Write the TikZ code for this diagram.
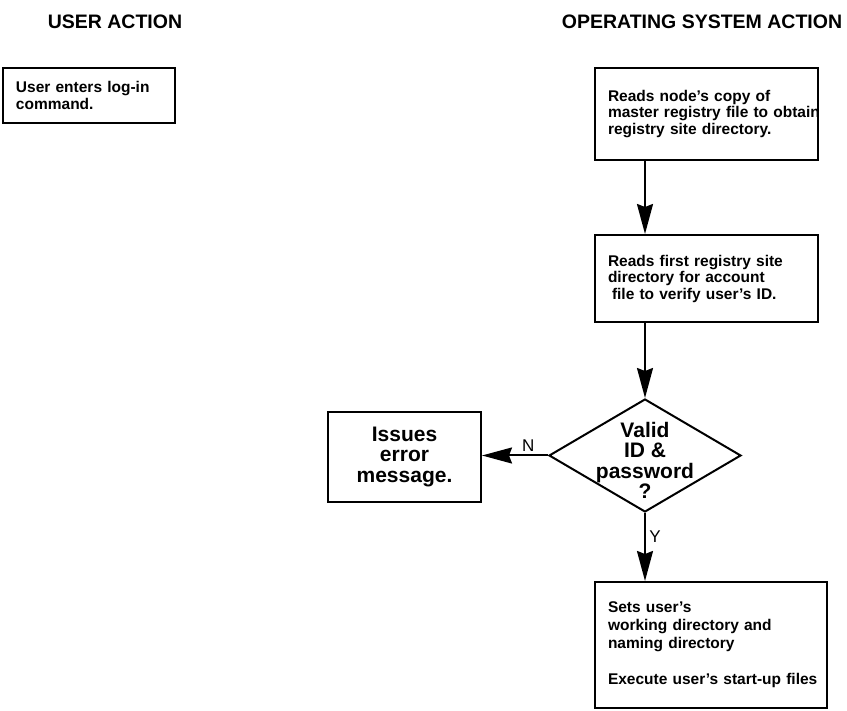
\documentclass[tikz,border=0pt]{standalone}
\usepackage{fontspec}
\setmainfont{Liberation Sans}
\usetikzlibrary{shapes.geometric,arrows.meta}

\begin{document}
\begin{tikzpicture}[x=1pt,y=-1pt,line width=2pt,
  head/.style={font=\fontsize{19.5}{19.5}\selectfont\bfseries},
  box/.style={draw,rectangle,inner sep=0pt,align=left,
    font=\fontsize{15.5}{16.5}\selectfont\bfseries},
  cbox/.style={draw,rectangle,inner sep=0pt,align=center,
    font=\fontsize{21}{20.5}\selectfont\bfseries},
  decision/.style={draw,diamond,inner sep=0pt,aspect=1.7},
  dtext/.style={align=center,font=\fontsize{21}{20.5}\selectfont\bfseries},
  tag/.style={font=\fontsize{17}{17}\selectfont},
  flow/.style={-{Stealth[length=30pt,width=16pt,inset=3pt]}}]

\useasboundingbox (0,0) rectangle (847,711);

% column headings
\node[head] (hu) at (115,22) {USER ACTION};
\node[head] (ho) at (702,22) {OPERATING SYSTEM ACTION};

% user column
\node[box,minimum width=172pt,minimum height=55pt,text width=146pt] (login) at (89,95.5)
  {\mbox{User enters log-in}\\\mbox{command.}};

% operating system column
\node[box,minimum width=223pt,minimum height=92pt,text width=197pt] (master) at (706.5,114)
  {\mbox{Reads node's copy of}\\\mbox{master registry file to obtain}\\\mbox{registry site directory.}};

\node[box,minimum width=223pt,minimum height=87pt,text width=197pt] (account) at (706.5,278.5)
  {\mbox{Reads first registry site}\\\mbox{directory for account}\\\mbox{\hspace{4pt}file to verify user's ID.}};

\node[decision,minimum width=192pt,minimum height=113pt] (valid) at (645,455.5) {};
\node[dtext] (vtext) at ([yshift=-5pt]valid.center) {Valid\\ID \&\\password\\?};

\node[cbox,minimum width=153pt,minimum height=90pt] (error) at (404.5,457)
  {Issues\\error\\message.};

\node[box,minimum width=232pt,minimum height=126pt,text width=206pt,
  font=\fontsize{15.5}{18}\selectfont\bfseries] (setdir) at (711,645)
  {\mbox{Sets user's}\\\mbox{working directory and}\\\mbox{naming directory}\\[18pt]\mbox{Execute user's start-up files}};

% connectors
\draw[flow] (valid.north |- master.south) -- (valid.north |- account.north);
\draw[flow] (valid.north |- account.south) -- (valid.north);
\draw[flow] (valid.west) -- (error.east |- valid.west)
  node[tag,pos=0.3,above] {N};
\draw[flow] (valid.south) -- (valid.south |- setdir.north)
  node[tag,pos=0.35,right] {Y};

\end{tikzpicture}
\end{document}
